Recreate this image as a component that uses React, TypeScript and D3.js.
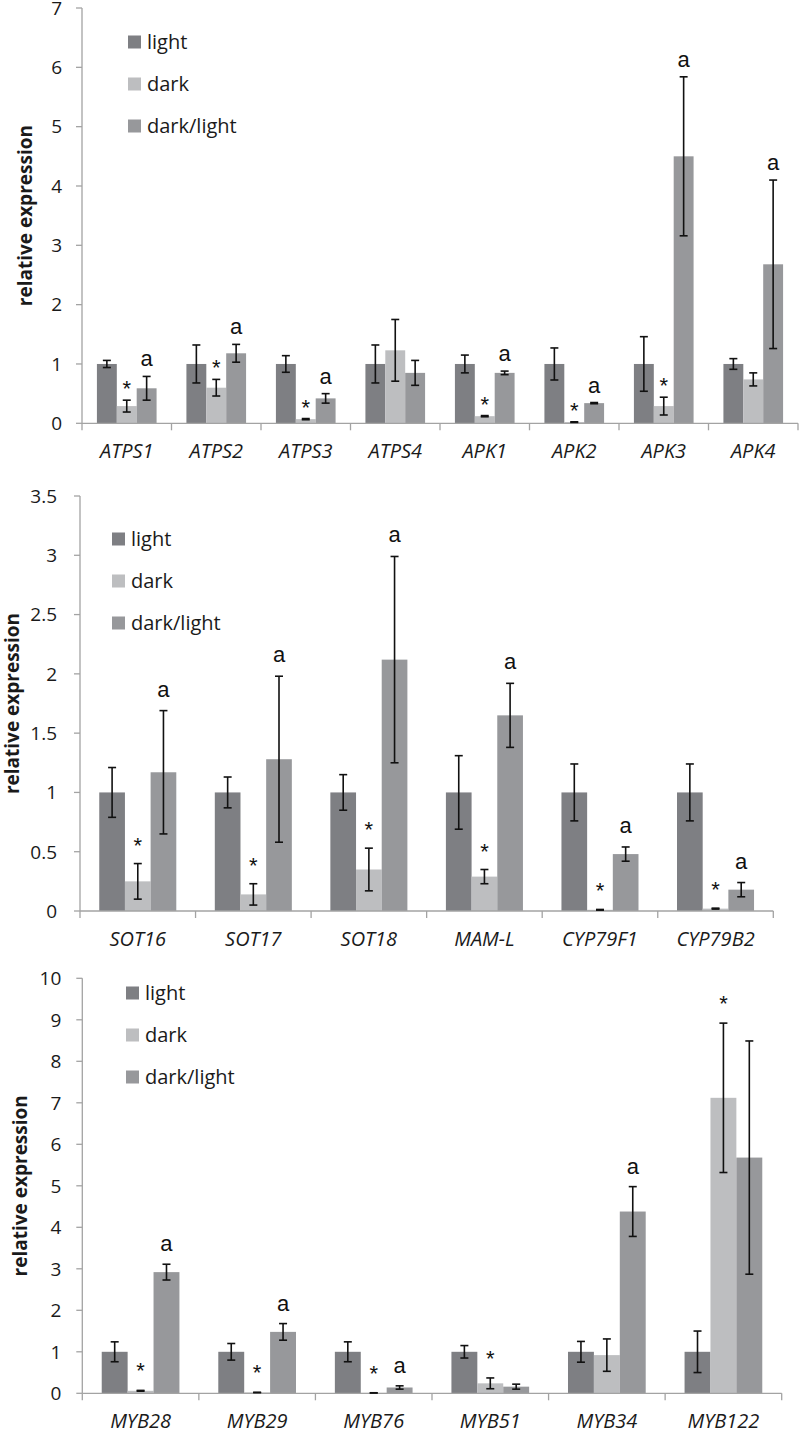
import React, { useEffect, useRef } from 'react';
import * as d3 from 'd3';

// ---- panel 1: sulfate assimilation genes ----
const cats1 = ['ATPS1', 'ATPS2', 'ATPS3', 'ATPS4', 'APK1', 'APK2', 'APK3', 'APK4'];
const light1 = [1.0, 1.0, 1.0, 1.0, 1.0, 1.0, 1.0, 1.0];
const light1Err = [0.06, 0.32, 0.14, 0.32, 0.15, 0.27, 0.46, 0.09];
const dark1 = [0.29, 0.6, 0.07, 1.23, 0.12, 0.02, 0.29, 0.74];
const dark1Err = [0.1, 0.14, 0.01, 0.52, 0.01, 0.005, 0.15, 0.11];
const dl1 = [0.59, 1.18, 0.42, 0.85, 0.85, 0.34, 4.5, 2.68];
const dl1Err = [0.2, 0.15, 0.08, 0.21, 0.03, 0.01, 1.34, 1.42];
const dark1Mark = ['*', '*', '*', '', '*', '*', '*', ''];
const dl1Mark = ['a', 'a', 'a', '', 'a', 'a', 'a', 'a'];
const ticks1 = [0, 1, 2, 3, 4, 5, 6, 7];

// ---- panel 2: glucosinolate biosynthesis genes ----
const cats2 = ['SOT16', 'SOT17', 'SOT18', 'MAM-L', 'CYP79F1', 'CYP79B2'];
const light2 = [1.0, 1.0, 1.0, 1.0, 1.0, 1.0];
const light2Err = [0.21, 0.13, 0.15, 0.31, 0.24, 0.24];
const dark2 = [0.25, 0.14, 0.35, 0.29, 0.01, 0.02];
const dark2Err = [0.15, 0.09, 0.18, 0.06, 0.003, 0.004];
const dl2 = [1.17, 1.28, 2.12, 1.65, 0.48, 0.18];
const dl2Err = [0.52, 0.7, 0.87, 0.27, 0.06, 0.06];
const dark2Mark = ['*', '*', '*', '*', '*', '*'];
const dl2Mark = ['a', 'a', 'a', 'a', 'a', 'a'];
const ticks2 = [0, 0.5, 1, 1.5, 2, 2.5, 3, 3.5];

// ---- panel 3: MYB transcription factors ----
const cats3 = ['MYB28', 'MYB29', 'MYB76', 'MYB51', 'MYB34', 'MYB122'];
const light3 = [1.0, 1.0, 1.0, 1.0, 1.0, 1.0];
const light3Err = [0.24, 0.2, 0.24, 0.15, 0.25, 0.5];
const dark3 = [0.06, 0.02, 0.01, 0.24, 0.92, 7.12];
const dark3Err = [0.01, 0.003, 0.003, 0.13, 0.39, 1.8];
const dl3 = [2.92, 1.48, 0.14, 0.16, 4.38, 5.68];
const dl3Err = [0.19, 0.2, 0.04, 0.06, 0.6, 2.81];
const dark3Mark = ['*', '*', '*', '*', '', '*'];
const dl3Mark = ['a', 'a', 'a', '', 'a', ''];
const ticks3 = [0, 1, 2, 3, 4, 5, 6, 7, 8, 9, 10];

const seriesNames = ['light', 'dark', 'dark/light'];
const seriesColors = ['#7e7f83', '#bdbec0', '#97989b'];

const panels = [
  {
    cats: cats1, vals: [light1, dark1, dl1], errs: [light1Err, dark1Err, dl1Err],
    marks: [null, dark1Mark, dl1Mark], ticks: ticks1,
    x0: 82, x1: 798, yTop: 8, yBot: 423.3, titleX: 25, tickGap: 20,
    legX: 128, legY: 42, legStep: 42, starOff: 4, aOff: 10,
  },
  {
    cats: cats2, vals: [light2, dark2, dl2], errs: [light2Err, dark2Err, dl2Err],
    marks: [null, dark2Mark, dl2Mark], ticks: ticks2,
    x0: 80, x1: 773.3, yTop: 496, yBot: 911, titleX: 12.5, tickGap: 23,
    legX: 112, legY: 539, legStep: 42, starOff: 11, aOff: 14,
  },
  {
    cats: cats3, vals: [light3, dark3, dl3], errs: [light3Err, dark3Err, dl3Err],
    marks: [null, dark3Mark, dl3Mark], ticks: ticks3,
    x0: 82.3, x1: 781.7, yTop: 978.3, yBot: 1393.3, titleX: 20, tickGap: 21,
    legX: 126, legY: 993, legStep: 42, starOff: 12, aOff: 13,
  },
];

const App = () => {
  const ref = useRef(null);

  useEffect(() => {
    document.body.style.margin = '0';
    const svg = d3.select(ref.current);
    svg.selectAll('*').remove();
    const font = "'Open Sans', sans-serif";
    const axisColor = '#a3a3a3';

    panels.forEach(p => {
      const ymax = p.ticks[p.ticks.length - 1];
      const y = d3.scaleLinear().domain([0, ymax]).range([p.yBot, p.yTop]);
      const x = d3.scaleBand().domain(p.cats).range([p.x0, p.x1]);
      const inner = d3.scaleBand().domain(seriesNames).range([0, x.bandwidth()])
        .paddingInner(0).paddingOuter(0.75);
      const g = svg.append('g');

      // bars
      seriesNames.forEach((s, si) => {
        g.selectAll(null)
          .data(p.cats)
          .enter().append('rect')
          .attr('x', c => x(c) + inner(s))
          .attr('y', (c, i) => y(p.vals[si][i]))
          .attr('width', inner.bandwidth())
          .attr('height', (c, i) => p.yBot - y(p.vals[si][i]))
          .attr('fill', seriesColors[si]);
      });

      // axes
      g.append('line').attr('x1', p.x0).attr('x2', p.x0).attr('y1', p.yTop).attr('y2', p.yBot)
        .attr('stroke', axisColor).attr('stroke-width', 1.3);
      g.append('line').attr('x1', p.x0).attr('x2', p.x1).attr('y1', p.yBot).attr('y2', p.yBot)
        .attr('stroke', axisColor).attr('stroke-width', 1.3);
      p.ticks.forEach(t => {
        g.append('line').attr('x1', p.x0 - 6).attr('x2', p.x0).attr('y1', y(t)).attr('y2', y(t))
          .attr('stroke', axisColor).attr('stroke-width', 1.3);
        g.append('text').attr('x', p.x0 - p.tickGap).attr('y', y(t)).attr('dy', '0.36em')
          .attr('text-anchor', 'end').attr('font-family', font).attr('font-size', 19)
          .attr('fill', '#1a1a1a').text(String(t));
      });
      const edges = p.cats.map(c => x(c)).concat([p.x1]);
      edges.forEach(e => {
        g.append('line').attr('x1', e).attr('x2', e).attr('y1', p.yBot).attr('y2', p.yBot + 7)
          .attr('stroke', axisColor).attr('stroke-width', 1.3);
      });
      p.cats.forEach(c => {
        g.append('text').attr('x', x(c) + x.bandwidth() / 2).attr('y', p.yBot + 35)
          .attr('text-anchor', 'middle').attr('font-family', font).attr('font-size', 20)
          .attr('font-style', 'italic').attr('fill', '#1a1a1a').text(c);
      });
      g.append('text')
        .attr('transform', `translate(${p.titleX},${(p.yTop + p.yBot) / 2}) rotate(-90)`)
        .attr('text-anchor', 'middle').attr('dy', '0.35em')
        .attr('font-family', font).attr('font-size', 19).attr('font-weight', 'bold')
        .attr('fill', '#1a1a1a').text('relative expression');

      // error bars and marks
      seriesNames.forEach((s, si) => {
        p.cats.forEach((c, i) => {
          const cx = x(c) + inner(s) + inner.bandwidth() / 2;
          const v = p.vals[si][i], e = p.errs[si][i];
          const hi = y(v + e), lo = y(v - e);
          g.append('line').attr('x1', cx).attr('x2', cx).attr('y1', hi).attr('y2', lo)
            .attr('stroke', '#111').attr('stroke-width', 1.6);
          [hi, lo].forEach(yy => {
            g.append('line').attr('x1', cx - 4).attr('x2', cx + 4).attr('y1', yy).attr('y2', yy)
              .attr('stroke', '#111').attr('stroke-width', 1.6);
          });
          const m = p.marks[si] ? p.marks[si][i] : '';
          if (m) {
            g.append('text').attr('x', cx).attr('y', hi - (m === '*' ? p.starOff : p.aOff))
              .attr('text-anchor', 'middle').attr('font-family', "'Liberation Sans', Arial, sans-serif")
              .attr('font-size', 22).attr('fill', '#111').text(m);
          }
        });
      });

      // legend
      seriesNames.forEach((s, si) => {
        const cy = p.legY + si * p.legStep;
        g.append('rect').attr('x', p.legX).attr('y', cy - 6.5).attr('width', 13).attr('height', 13)
          .attr('fill', seriesColors[si]);
        g.append('text').attr('x', p.legX + 19).attr('y', cy).attr('dy', '0.36em')
          .attr('font-family', font).attr('font-size', 20).attr('fill', '#1a1a1a').text(s);
      });
    });
  }, []);

  return <svg ref={ref} width={800} height={1431} style={{ display: 'block', background: '#fff' }} />;
};

export default App;
